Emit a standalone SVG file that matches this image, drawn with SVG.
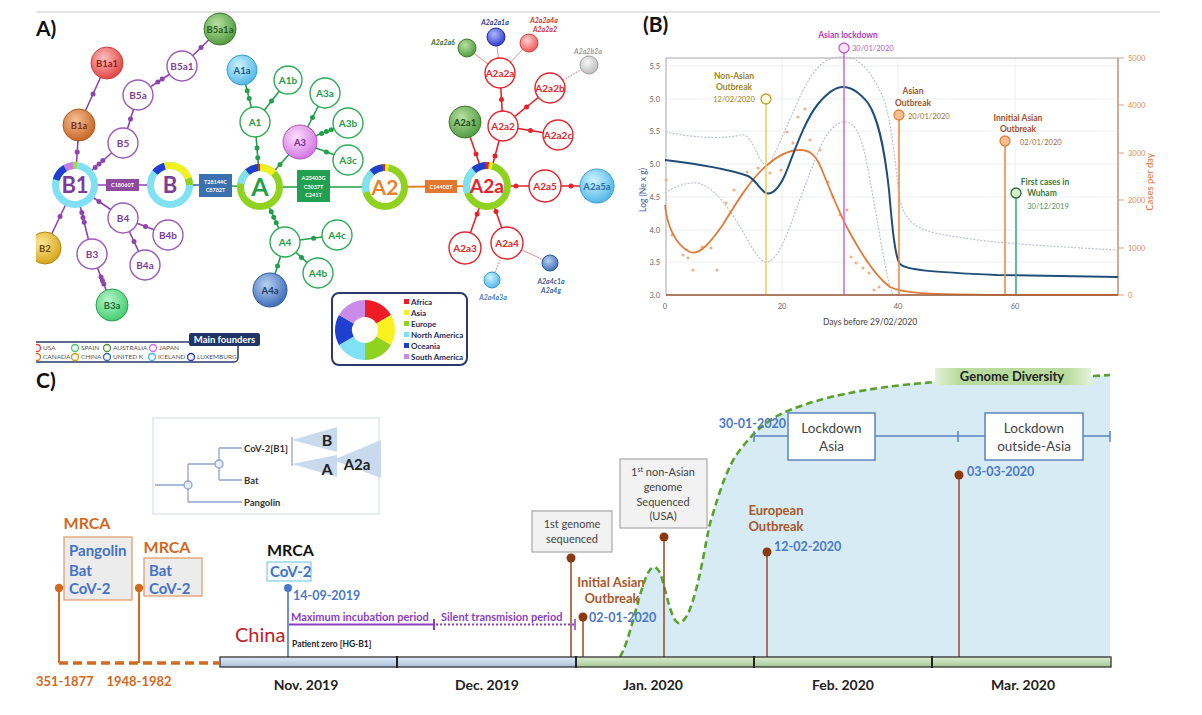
<svg xmlns="http://www.w3.org/2000/svg" width="1202" height="715" viewBox="0 0 1202 715">
<defs>
<style>
text{font-family:Lato,"Open Sans","Liberation Sans",sans-serif}
.lbl{font-weight:bold;font-size:21px;fill:#111}
.pl{stroke:#8e44ad;stroke-width:1.6;fill:none}
.gl{stroke:#22a04b;stroke-width:1.6;fill:none}
.rl{stroke:#e3242b;stroke-width:1.6;fill:none}
.ol{stroke:#e8822a;stroke-width:1.8;fill:none}
.thin{stroke:#e88a8a;stroke-width:1;fill:none}
.dotl{stroke:#e88a8a;stroke-width:1.2;fill:none;stroke-dasharray:1.5,1.5}
.pd{fill:#8e44ad}.gd{fill:#22a04b}.rd{fill:#e3242b}
.pn{fill:#fff;stroke:#9b59b6;stroke-width:1.4}
.gn{fill:#fff;stroke:#2eab56;stroke-width:1.4}
.rn{fill:#fff;stroke:#e3242b;stroke-width:1.4}
.tp{fill:#7d3c98;font-weight:bold;font-size:10px;text-anchor:middle}
.tg{fill:#1e9a48;font-weight:bold;font-size:10px;text-anchor:middle}
.tr{fill:#e3242b;font-weight:bold;font-size:10px;text-anchor:middle}
.tf{font-weight:bold;font-size:9.5px;text-anchor:middle}
.ts{font-weight:bold;font-style:italic;font-size:7px;text-anchor:middle}
.mut{fill:#fff;font-weight:bold;font-size:5.5px;text-anchor:middle}
.ring{fill:#fff;stroke-width:7}
.seg{fill:none;stroke-width:7}
.leg{font-size:6.5px;fill:#555}
.cl{font-weight:bold;font-size:8px;fill:#1f2d5c}
.ax{font-size:7.5px;fill:#666}
.axr{font-size:7.5px;fill:#e08a55}
.ev{font-weight:bold;font-size:8.5px;text-anchor:middle}
.evd{font-size:7.5px}
.grid{stroke:#eceef2;stroke-width:1}
.ci{fill:none;stroke:#b9c1cd;stroke-width:1.2;stroke-dasharray:2,1.5}
.od{fill:#f2b185}
.mo{font-weight:bold;font-size:14px;fill:#222;text-anchor:middle}
.blue{fill:#4a78c8;font-weight:bold}
.brn{fill:#a8582a;font-weight:bold;font-size:13px;text-anchor:middle}
.evl{stroke:#a0522d;stroke-width:1.6}
.evc{fill:#8b3a10}
.gbox{fill:#f2f2f2;stroke:#a8a8a8;stroke-width:1.2}
.gt{font-size:11px;fill:#444;text-anchor:middle}
.lk{fill:#fff;stroke:#5b85c0;stroke-width:1.5}
.lkt{font-size:13.5px;fill:#444;text-anchor:middle}
.tree{stroke:#8ea4cf;stroke-width:1.3;fill:none}
.tri{fill:#c9d9ee}
.org{fill:#d2691e;font-weight:bold}
.mb{fill:#4472c4;font-weight:bold;font-size:15px}
</style>
<clipPath id="clipA"><rect x="36" y="0" width="600" height="370"/></clipPath>
<radialGradient id="gRed" cx="40%" cy="35%" r="70%"><stop offset="0" stop-color="#ffc0c0"/><stop offset="1" stop-color="#e03c3c"/></radialGradient>
<radialGradient id="gBrn" cx="40%" cy="35%" r="70%"><stop offset="0" stop-color="#f6c098"/><stop offset="1" stop-color="#c4601c"/></radialGradient>
<radialGradient id="gGrn" cx="40%" cy="35%" r="70%"><stop offset="0" stop-color="#b8e0a0"/><stop offset="1" stop-color="#4a983a"/></radialGradient>
<radialGradient id="gLgr" cx="40%" cy="35%" r="70%"><stop offset="0" stop-color="#b8f5cc"/><stop offset="1" stop-color="#3ccc6a"/></radialGradient>
<radialGradient id="gGld" cx="40%" cy="35%" r="70%"><stop offset="0" stop-color="#ffe898"/><stop offset="1" stop-color="#d4a010"/></radialGradient>
<radialGradient id="gLbl" cx="40%" cy="35%" r="70%"><stop offset="0" stop-color="#d0f2fe"/><stop offset="1" stop-color="#48b4e6"/></radialGradient>
<radialGradient id="gBlu" cx="40%" cy="35%" r="70%"><stop offset="0" stop-color="#b8d2f2"/><stop offset="1" stop-color="#3868b4"/></radialGradient>
<radialGradient id="gVio" cx="40%" cy="35%" r="70%"><stop offset="0" stop-color="#fde0fd"/><stop offset="1" stop-color="#d070e0"/></radialGradient>
<radialGradient id="gNav" cx="40%" cy="35%" r="70%"><stop offset="0" stop-color="#b0b8ff"/><stop offset="1" stop-color="#2a34c8"/></radialGradient>
<radialGradient id="gPnk" cx="40%" cy="35%" r="70%"><stop offset="0" stop-color="#ffd0d0"/><stop offset="1" stop-color="#f05050"/></radialGradient>
<radialGradient id="gGry" cx="40%" cy="35%" r="70%"><stop offset="0" stop-color="#f8f8f8"/><stop offset="1" stop-color="#b8b8b8"/></radialGradient>
<linearGradient id="barB" x1="0" y1="0" x2="0" y2="1"><stop offset="0" stop-color="#e2eaf6"/><stop offset="1" stop-color="#a9bfdc"/></linearGradient>
<linearGradient id="barG" x1="0" y1="0" x2="0" y2="1"><stop offset="0" stop-color="#dcecd2"/><stop offset="1" stop-color="#a6c894"/></linearGradient>
<linearGradient id="gdv" x1="0" y1="0" x2="1" y2="0"><stop offset="0" stop-color="#e4f2d8"/><stop offset="0.15" stop-color="#b9dc9e"/><stop offset="0.85" stop-color="#b9dc9e"/><stop offset="1" stop-color="#e4f2d8"/></linearGradient>
</defs>
<rect width="1202" height="715" fill="#fff"/>
<line x1="36" y1="12" x2="1160" y2="12" stroke="#c8c8c8" stroke-width="1.2"/>

<!-- ============ PANEL A ============ -->
<text x="36" y="36" class="lbl">A)</text>
<g clip-path="url(#clipA)">
<g id="connectors">
 <path class="pl" d="M75,185L79,125M79,125L107,63M75,185L123,143M123,143L138,95M138,95L182,66M182,66L220,29M75,185L170,185M75,185L123,218M123,218L168,235M123,218L145,265M75,185L92,254M92,254L112,305M75,185L45,248"/>
 <g class="pd"><circle cx="77.2" cy="152" r="2.5"/><circle cx="93" cy="94" r="2.5"/><circle cx="95.2" cy="167.4" r="2.5"/><circle cx="99" cy="164" r="2.5"/><circle cx="102.8" cy="160.6" r="2.5"/><circle cx="130.5" cy="119" r="2.5"/><circle cx="157.8" cy="82" r="2.5"/><circle cx="162.2" cy="79" r="2.5"/><circle cx="201" cy="47.5" r="2.5"/><circle cx="99" cy="201.5" r="2.5"/><circle cx="145.5" cy="226.5" r="2.5"/><circle cx="134" cy="241.5" r="2.5"/><circle cx="81.8" cy="212.6" r="2.5"/><circle cx="83" cy="217.4" r="2.5"/><circle cx="84.2" cy="222.3" r="2.5"/><circle cx="101" cy="277" r="2.5"/><circle cx="102.4" cy="280.5" r="2.5"/><circle cx="103.8" cy="284" r="2.5"/><circle cx="60" cy="216.5" r="2.5"/></g>
 <path class="pl" d="M170,185L200,185" style="stroke:#3a6fb0"/>
 <path class="gl" d="M232,186L260,187M260,187L255,122M255,122L242,70M255,122L288,80M260,187L300,142M300,142L325,93M300,142L348,123M300,142L348,160M260,187L385,187M260,187L285,242M285,242L337,235M285,242L318,273M285,242L270,290"/>
 <g class="gd"><circle cx="257.75" cy="157.75" r="2.5"/><circle cx="257" cy="148" r="2.5"/><circle cx="249.2" cy="98.6" r="2.5"/><circle cx="247.2" cy="90.8" r="2.5"/><circle cx="271.5" cy="101" r="2.5"/><circle cx="280" cy="164.5" r="2.5"/><circle cx="312.5" cy="117.5" r="2.5"/><circle cx="321.6" cy="133.5" r="2.5"/><circle cx="326.4" cy="131.6" r="2.5"/><circle cx="331.2" cy="129.7" r="2.5"/><circle cx="326.4" cy="151.9" r="2.5"/><circle cx="271.25" cy="211.75" r="2.5"/><circle cx="273.75" cy="217.25" r="2.5"/><circle cx="276.25" cy="222.75" r="2.5"/><circle cx="313.6" cy="238.2" r="2.5"/><circle cx="301.5" cy="257.5" r="2.5"/><circle cx="277.5" cy="266" r="2.5"/></g>
 <path class="ol" d="M385,187L487,186"/>
 <path class="rl" d="M487,186L465,122M487,186L503,126M503,126L500,73M503,126L550,88M503,126L558,135M487,186L545,186M545,186L597,186M487,186L465,248M487,186L507,243"/>
 <g class="rd"><circle cx="476" cy="154" r="2.5"/><circle cx="495" cy="156" r="2.5"/><circle cx="501.5" cy="99.5" r="2.5"/><circle cx="526.5" cy="107" r="2.5"/><circle cx="530.5" cy="130.5" r="2.5"/><circle cx="516" cy="186" r="2.5"/><circle cx="571" cy="186" r="2.5"/><circle cx="477.1" cy="213.9" r="2.5"/><circle cx="496" cy="211.6" r="2.5"/></g>
 <path class="thin" d="M500,73L467,48M500,73L496,37M500,73L529,43M507,243L550,263"/>
 <path class="dotl" d="M550,88L589,65M507,243L492,280"/>
</g>

<!-- mutation boxes -->
<g id="mut-C18060T"><rect x="106" y="179" width="33" height="12" fill="#8e4a9e"/><text x="122.5" y="187.3" class="mut">C18060T</text></g>
<g id="mut-T28144C"><rect x="199" y="174" width="33" height="23" fill="#3a6fb0"/><text x="215.5" y="184" class="mut">T28144C</text><text x="215.5" y="192" class="mut">C8782T</text></g>
<g id="mut-A23403G"><rect x="297" y="170" width="33" height="32" fill="#20a050"/><text x="313.5" y="180" class="mut">A23403G</text><text x="313.5" y="188.5" class="mut">C3037T</text><text x="313.5" y="197" class="mut">C241T</text></g>
<g id="mut-C14408T"><rect x="425" y="180" width="32" height="13" fill="#e07830"/><text x="441" y="188.8" class="mut">C14408T</text></g>

<!-- ring nodes -->
<g id="B1"><circle cx="75" cy="185" r="19.5" class="ring" stroke="#7fe1f3"/>
 <path class="seg" stroke="#1f3fcf" d="M56.16,179.95A19.5,19.5 0 0 1 65.25,168.11"/>
 <path class="seg" stroke="#c77ce8" d="M65.25,168.11A19.5,19.5 0 0 1 73.30,165.57"/>
 <path class="seg" stroke="#a4dc2a" d="M73.30,165.57A19.5,19.5 0 0 1 76.70,165.57"/>
 <text x="75" y="193" font-size="22" font-weight="bold" fill="#7d3c98" text-anchor="middle">B1</text></g>
<g id="B"><circle cx="170" cy="185" r="19.5" class="ring" stroke="#7fe1f3"/>
 <path class="seg" stroke="#1f3fcf" d="M155.06,172.47A19.5,19.5 0 0 1 164.95,166.16"/>
 <path class="seg" stroke="#f4f01e" d="M164.95,166.16A19.5,19.5 0 0 1 188.32,178.33"/>
 <path class="seg" stroke="#8fd320" d="M188.32,178.33A19.5,19.5 0 0 1 189.5,185"/>
 <text x="170" y="193" font-size="22" font-weight="bold" fill="#7d3c98" text-anchor="middle">B</text></g>
<g id="A"><circle cx="260" cy="187" r="19.5" class="ring" stroke="#8fd320"/>
 <path class="seg" stroke="#7fe1f3" d="M240.80,183.61A19.5,19.5 0 0 1 247.47,172.06"/>
 <path class="seg" stroke="#1f3fcf" d="M247.47,172.06A19.5,19.5 0 0 1 258.30,167.57"/>
 <path class="seg" stroke="#e82020" d="M258.30,167.57A19.5,19.5 0 0 1 260,167.5"/>
 <path class="seg" stroke="#f4f01e" d="M260,167.5A19.5,19.5 0 0 1 273.79,173.21"/>
 <text x="260" y="196" font-size="25" font-weight="bold" fill="#22a04b" text-anchor="middle">A</text></g>
<g id="A2"><circle cx="385" cy="187" r="19.5" class="ring" stroke="#8fd320"/>
 <path class="seg" stroke="#7fe1f3" d="M366.16,192.05A19.5,19.5 0 0 1 371.95,172.51"/>
 <path class="seg" stroke="#1f3fcf" d="M371.95,172.51A19.5,19.5 0 0 1 382.96,167.61"/>
 <path class="seg" stroke="#e82020" d="M382.96,167.61A19.5,19.5 0 0 1 385,167.5"/>
 <path class="seg" stroke="#f4f01e" d="M385,167.5A19.5,19.5 0 0 1 388.39,167.80"/>
 <text x="385" y="195" font-size="21" font-weight="bold" fill="#e8822a" text-anchor="middle">A2</text></g>
<g id="A2a"><circle cx="487" cy="186" r="20.5" class="ring" stroke="#8fd320"/>
 <path class="seg" stroke="#7fe1f3" d="M467.74,193.01A20.5,20.5 0 0 1 473.82,170.30"/>
 <path class="seg" stroke="#1f3fcf" d="M473.82,170.30A20.5,20.5 0 0 1 485.93,165.53"/>
 <path class="seg" stroke="#e82020" d="M485.93,165.53A20.5,20.5 0 0 1 488.79,165.58"/>
 <path class="seg" stroke="#f4f01e" d="M488.79,165.58A20.5,20.5 0 0 1 492.31,166.20"/>
 <text x="487" y="193" font-size="19" font-weight="bold" fill="#e3242b" text-anchor="middle">A2a</text></g>

<!-- purple white nodes -->
<g id="B5"><circle cx="123" cy="143" r="15" class="pn"/><text x="123" y="146.5" class="tp">B5</text></g>
<g id="B5a"><circle cx="138" cy="95" r="15" class="pn"/><text x="138" y="98.5" class="tp">B5a</text></g>
<g id="B5a1"><circle cx="182" cy="66" r="15" class="pn"/><text x="182" y="69.5" class="tp">B5a1</text></g>
<g id="B4"><circle cx="123" cy="218" r="15" class="pn"/><text x="123" y="221.5" class="tp">B4</text></g>
<g id="B4b"><circle cx="168" cy="235" r="15" class="pn"/><text x="168" y="238.5" class="tp">B4b</text></g>
<g id="B4a"><circle cx="145" cy="265" r="15" class="pn"/><text x="145" y="268.5" class="tp">B4a</text></g>
<g id="B3"><circle cx="92" cy="254" r="15" class="pn"/><text x="92" y="257.5" class="tp">B3</text></g>
<!-- filled B nodes -->
<g id="B1a1"><circle cx="107" cy="63" r="16" fill="url(#gRed)" stroke="#c84040"/><text x="107" y="66.5" class="tf" fill="#8a1c1c">B1a1</text></g>
<g id="B1a"><circle cx="79" cy="125" r="16" fill="url(#gBrn)" stroke="#b05a20"/><text x="79" y="128.5" class="tf" fill="#7a3210">B1a</text></g>
<g id="B5a1a"><circle cx="220" cy="29" r="16" fill="url(#gGrn)" stroke="#3c7a2c"/><text x="220" y="32.5" class="tf" fill="#2a5a1c">B5a1a</text></g>
<g id="B2"><circle cx="45" cy="248" r="16" fill="url(#gGld)" stroke="#b08810"/><text x="45" y="251.5" class="tf" fill="#6a4a08">B2</text></g>
<g id="B3a"><circle cx="112" cy="305" r="16" fill="url(#gLgr)" stroke="#2aa050"/><text x="112" y="308.5" class="tf" fill="#176a32">B3a</text></g>

<!-- green nodes -->
<g id="A1"><circle cx="255" cy="122" r="15" class="gn"/><text x="255" y="125.5" class="tg">A1</text></g>
<g id="A1b"><circle cx="288" cy="80" r="14" class="gn"/><text x="288" y="83.5" class="tg">A1b</text></g>
<g id="A3a"><circle cx="325" cy="93" r="15" class="gn"/><text x="325" y="96.5" class="tg">A3a</text></g>
<g id="A3b"><circle cx="348" cy="123" r="15" class="gn"/><text x="348" y="126.5" class="tg">A3b</text></g>
<g id="A3c"><circle cx="348" cy="160" r="15" class="gn"/><text x="348" y="163.5" class="tg">A3c</text></g>
<g id="A4"><circle cx="285" cy="242" r="15" class="gn"/><text x="285" y="245.5" class="tg">A4</text></g>
<g id="A4c"><circle cx="337" cy="235" r="15" class="gn"/><text x="337" y="238.5" class="tg">A4c</text></g>
<g id="A4b"><circle cx="318" cy="273" r="15" class="gn"/><text x="318" y="276.5" class="tg">A4b</text></g>
<g id="A1a"><circle cx="242" cy="70" r="15" fill="url(#gLbl)" stroke="#3a9ed0"/><text x="242" y="73.5" class="tf" fill="#1a5a8a">A1a</text></g>
<g id="A3"><circle cx="300" cy="142" r="17" fill="url(#gVio)" stroke="#b050c0"/><text x="300" y="145.5" class="tf" fill="#7a2a8a">A3</text></g>
<g id="A4a"><circle cx="270" cy="290" r="17" fill="url(#gBlu)" stroke="#2a5aa0"/><text x="270" y="293.5" class="tf" fill="#1c3a6a">A4a</text></g>

<!-- red nodes -->
<g id="A2a2"><circle cx="503" cy="126" r="15" class="rn"/><text x="503" y="129.5" class="tr">A2a2</text></g>
<g id="A2a2a"><circle cx="500" cy="73" r="15" class="rn"/><text x="500" y="76.5" class="tr">A2a2a</text></g>
<g id="A2a2b"><circle cx="550" cy="88" r="15" class="rn"/><text x="550" y="91.5" class="tr">A2a2b</text></g>
<g id="A2a2c"><circle cx="558" cy="135" r="15" class="rn"/><text x="558" y="138.5" class="tr">A2a2c</text></g>
<g id="A2a5"><circle cx="545" cy="186" r="16" class="rn"/><text x="545" y="189.5" class="tr">A2a5</text></g>
<g id="A2a3"><circle cx="465" cy="248" r="16" class="rn"/><text x="465" y="251.5" class="tr">A2a3</text></g>
<g id="A2a4"><circle cx="507" cy="243" r="16" class="rn"/><text x="507" y="246.5" class="tr">A2a4</text></g>
<g id="A2a1"><circle cx="465" cy="122" r="16" fill="url(#gGrn)" stroke="#3c7a2c"/><text x="465" y="125.5" class="tf" fill="#1e4a14">A2a1</text></g>
<g id="A2a5a"><circle cx="597" cy="186" r="17" fill="url(#gLbl)" stroke="#3a9ed0"/><text x="597" y="189.5" class="tf" fill="#2a6ab0">A2a5a</text></g>
<g id="A2a2a6"><circle cx="467" cy="48" r="9" fill="url(#gGrn)" stroke="#3c7a2c"/><text x="443" y="45" class="ts" fill="#3a6a2a">A2a2a6</text></g>
<g id="A2a2a1a"><circle cx="496" cy="37" r="9" fill="url(#gNav)" stroke="#2028a0"/><text x="495" y="25" class="ts" fill="#2a3a8a">A2a2a1a</text></g>
<g id="A2a2a4a"><circle cx="529" cy="43" r="9" fill="url(#gPnk)" stroke="#d04040"/><text x="544" y="23" class="ts" fill="#d03030">A2a2a4a</text><text x="545" y="32" class="ts" fill="#d03030">A2a2a2</text></g>
<g id="A2a2b2a"><circle cx="589" cy="65" r="9" fill="url(#gGry)" stroke="#a0a0a0"/><text x="588" y="54" class="ts" fill="#999">A2a2b2a</text></g>
<g id="A2a4a3a"><circle cx="492" cy="280" r="8" fill="url(#gLbl)" stroke="#3a9ed0"/><text x="493" y="300" class="ts" fill="#4a7fc0">A2a4a3a</text></g>
<g id="A2a4c1a"><circle cx="550" cy="263" r="8" fill="url(#gBlu)" stroke="#2a5aa0"/><text x="551" y="284" class="ts" fill="#3a5f9a">A2a4c1a</text><text x="551" y="293" class="ts" fill="#3a5f9a">A2a4g</text></g>

<!-- founders legend -->
<g id="legend-founders">
 <rect x="30" y="342" width="208" height="20" rx="4" fill="#fff" stroke="#2a3a6a" stroke-width="1.5"/>
 <rect x="189" y="333" width="71" height="13" rx="2" fill="#1f3565"/>
 <text x="224.5" y="343" font-size="9.5" font-weight="bold" fill="#fff" text-anchor="middle">Main founders</text>
 <g stroke-width="1.3" fill="#f6f6f6">
  <circle cx="37" cy="348" r="3.5" stroke="#e84040"/><circle cx="75" cy="348" r="3.5" stroke="#3ccc6a"/><circle cx="107" cy="348" r="3.5" stroke="#4a983a"/><circle cx="153" cy="348" r="3.5" stroke="#d070e0"/>
  <circle cx="37" cy="357" r="3.5" stroke="#d8702a"/><circle cx="75" cy="357" r="3.5" stroke="#d4a010"/><circle cx="107" cy="357" r="3.5" stroke="#3868b4"/><circle cx="152" cy="357" r="3.5" stroke="#48b4e6"/><circle cx="191" cy="357" r="3.5" stroke="#2a34c8"/>
 </g>
 <text x="43" y="350.3" class="leg">USA</text><text x="81" y="350.3" class="leg">SPAIN</text><text x="113" y="350.3" class="leg">AUSTRALIA</text><text x="159" y="350.3" class="leg">JAPAN</text>
 <text x="43" y="359.3" class="leg">CANADA</text><text x="81" y="359.3" class="leg">CHINA</text><text x="113" y="359.3" class="leg">UNITED K</text><text x="158" y="359.3" class="leg">ICELAND</text><text x="197" y="359.3" class="leg">LUXEMBURG</text>
</g>
</g>

<!-- continent legend -->
<g id="legend-continents">
 <rect x="332" y="293" width="135" height="72" rx="7" fill="#fff" stroke="#2a3a6a" stroke-width="2"/>
 <g fill="none" stroke-width="17">
  <path stroke="#ee1c24" d="M365,308.5A21.5,21.5 0 0 1 383.62,319.25"/>
  <path stroke="#f8f020" d="M383.62,319.25A21.5,21.5 0 0 1 383.62,340.75"/>
  <path stroke="#8fd320" d="M383.62,340.75A21.5,21.5 0 0 1 365,351.5"/>
  <path stroke="#7fe1f3" d="M365,351.5A21.5,21.5 0 0 1 346.38,340.75"/>
  <path stroke="#1f3fcf" d="M346.38,340.75A21.5,21.5 0 0 1 346.38,319.25"/>
  <path stroke="#c98ae8" d="M346.38,319.25A21.5,21.5 0 0 1 365,308.5"/>
 </g>
 <rect x="404" y="299" width="5" height="5" fill="#ee1c24"/><text x="411" y="305" class="cl">Africa</text>
 <rect x="404" y="310" width="5" height="5" fill="#f8f020"/><text x="411" y="316" class="cl">Asia</text>
 <rect x="404" y="321" width="5" height="5" fill="#8fd320"/><text x="411" y="327" class="cl">Europe</text>
 <rect x="404" y="332" width="5" height="5" fill="#7fe1f3"/><text x="411" y="338" class="cl">North America</text>
 <rect x="404" y="343" width="5" height="5" fill="#1f3fcf"/><text x="411" y="349" class="cl">Oceania</text>
 <rect x="404" y="354" width="5" height="5" fill="#c98ae8"/><text x="411" y="360" class="cl">South America</text>
</g>

<!-- ============ PANEL B ============ -->
<g id="panelB">
 <text x="643" y="32" class="lbl">(B)</text>
 <g class="grid"><path d="M666,66H1118M666,99H1118M666,131H1118M666,164H1118M666,197H1118M666,230H1118M666,262H1118M782,58V295M898,58V295M1015,58V295"/></g>
 <rect x="666" y="58" width="452" height="237" fill="none" stroke="#a8a8a8" stroke-width="1"/>
 <line x1="1118" y1="58" x2="1118" y2="295" stroke="#c8875a" stroke-width="1"/>
 <g class="ax" text-anchor="end">
  <text x="660" y="69">5.5</text><text x="660" y="102">5.0</text><text x="660" y="134">5.5</text><text x="660" y="167">5.0</text><text x="660" y="200">4.5</text><text x="660" y="233">4.0</text><text x="660" y="265">3.5</text><text x="660" y="298">3.0</text>
 </g>
 <text transform="translate(646,190) rotate(-90)" font-size="8.5" fill="#3a5f9a" text-anchor="middle">Log (Ne x g)</text>
 <g class="axr">
  <text x="1128" y="61">5000</text><text x="1128" y="108">4000</text><text x="1128" y="156">3000</text><text x="1128" y="203">2000</text><text x="1128" y="251">1000</text><text x="1128" y="298">0</text>
 </g>
 <g stroke="#d8a080" stroke-width="1"><path d="M1118,58h6M1118,105h6M1118,153h6M1118,200h6M1118,248h6M1118,295h6"/></g>
 <text transform="translate(1153,182) rotate(-90)" font-size="9.5" fill="#d87030" text-anchor="middle">Cases per day</text>
 <g class="ax" text-anchor="middle"><text x="665" y="309">0</text><text x="782" y="309">20</text><text x="898" y="309">40</text><text x="1015" y="309">60</text></g>
 <text x="870" y="325" font-size="8.5" fill="#444" text-anchor="middle">Days before 29/02/2020</text>

 <!-- curves -->
 <path class="ci" d="M666,132C690,137 720,140 740,135C748,133 752,143 758,155C762,163 766,168 770,163C776,152 784,132 795,108C805,85 815,65 830,59C838,56 848,56 856,60C866,66 876,80 884,100C892,125 895,160 899,195C903,220 915,228 935,233C970,240 1000,244 1118,250"/>
 <path class="ci" d="M665,193C675,186 688,182 697,183C715,186 730,210 745,235C752,248 760,262 766,262C774,262 780,250 788,232C796,210 805,185 815,160C822,140 832,124 843,122C852,121 858,128 864,150C872,185 882,255 890,287L893,295"/>
 <g class="od">
  <circle cx="666" cy="180" r="1.6"/><circle cx="672" cy="235" r="1.6"/><circle cx="683" cy="255" r="1.6"/><circle cx="688" cy="258" r="1.6"/><circle cx="693" cy="270" r="1.6"/><circle cx="702" cy="247" r="1.6"/><circle cx="711" cy="248" r="1.6"/><circle cx="717" cy="270" r="1.6"/><circle cx="726" cy="203" r="1.6"/><circle cx="734" cy="190" r="1.6"/><circle cx="747" cy="172" r="1.6"/><circle cx="758" cy="168" r="1.6"/><circle cx="770" cy="173" r="1.6"/><circle cx="781" cy="170" r="1.6"/><circle cx="787" cy="132" r="1.6"/><circle cx="793" cy="143" r="1.6"/><circle cx="798" cy="117" r="1.6"/><circle cx="805" cy="109" r="1.6"/><circle cx="810" cy="140" r="1.6"/><circle cx="820" cy="150" r="1.6"/><circle cx="828" cy="182" r="1.6"/><circle cx="833" cy="197" r="1.6"/><circle cx="840" cy="215" r="1.6"/><circle cx="847" cy="210" r="1.6"/><circle cx="851" cy="257" r="1.6"/><circle cx="856" cy="263" r="1.6"/><circle cx="863" cy="268" r="1.6"/><circle cx="869" cy="273" r="1.6"/><circle cx="874" cy="290" r="1.6"/><circle cx="879" cy="287" r="1.6"/>
 </g>
 <path fill="none" stroke="#e07b39" stroke-width="1.8" d="M665,205C667,225 675,245 690,252C700,256 712,240 722,226C735,205 750,180 765,167C778,155 790,150 800,150C810,150 816,155 822,170C830,190 840,215 850,233C862,255 875,276 890,287C905,294 930,294 997,295L1118,295"/>
 <path fill="none" stroke="#1f4e79" stroke-width="2" d="M665,160C690,163 725,168 748,176C756,180 760,190 766,193C772,195 778,190 785,175C795,150 805,120 818,104C828,92 836,87 843,87C852,87 860,93 868,103C878,118 884,145 889,190C892,225 895,258 900,264C906,270 930,272 997,275L1118,277"/>

 <!-- events -->
 <g id="ev-nonasian">
  <line x1="766" y1="104" x2="766" y2="295" stroke="#f0d060" stroke-width="1.6"/>
  <circle cx="766" cy="99" r="5" fill="#fffbe0" stroke="#b8a030" stroke-width="1.3"/>
  <text x="734" y="79" class="ev" fill="#a08420">Non-Asian</text><text x="734" y="90" class="ev" fill="#a08420">Outbreak</text>
  <text x="734" y="102" class="evd" fill="#a08420" text-anchor="middle">12/02/2020</text>
 </g>
 <g id="ev-lockdown">
  <line x1="844" y1="53" x2="844" y2="295" stroke="#d070e0" stroke-width="1.6"/>
  <circle cx="844" cy="48" r="5" fill="#f8e4f8" stroke="#c060d0" stroke-width="1.3"/>
  <text x="848" y="38" class="ev" fill="#b040c0">Asian lockdown</text>
  <text x="852" y="51" class="evd" fill="#b060c0">30/01/2020</text>
 </g>
 <g id="ev-asian">
  <line x1="899" y1="120" x2="899" y2="295" stroke="#e89050" stroke-width="1.6"/>
  <circle cx="899" cy="115" r="5" fill="#f8c090" stroke="#e08040" stroke-width="1.3"/>
  <text x="913" y="94" class="ev" fill="#a0522d">Asian</text><text x="913" y="106" class="ev" fill="#a0522d">Outbreak</text>
  <text x="908" y="119" class="evd" fill="#a06a40">20/01/2020</text>
 </g>
 <g id="ev-initial">
  <line x1="1005" y1="146" x2="1005" y2="295" stroke="#e89050" stroke-width="1.6"/>
  <circle cx="1005" cy="141" r="5" fill="#f8c090" stroke="#e08040" stroke-width="1.3"/>
  <text x="1018" y="121" class="ev" fill="#a0522d">Innitial Asian</text><text x="1018" y="132" class="ev" fill="#a0522d">Outbreak</text>
  <text x="1020" y="145" class="evd" fill="#a06a40">02/01/2020</text>
 </g>
 <g id="ev-wuhan">
  <line x1="1016" y1="198" x2="1016" y2="295" stroke="#40b080" stroke-width="1.6"/>
  <circle cx="1016" cy="193" r="5" fill="#d8f0c8" stroke="#2a6a3a" stroke-width="1.3"/>
  <text x="1045" y="185" class="ev" fill="#3a7a3a">First cases in</text><text x="1042" y="196" class="ev" fill="#3a7a3a">Wuham</text>
  <text x="1048" y="209" class="evd" fill="#5a8a5a" text-anchor="middle">30/12/2019</text>
 </g>
 <line x1="666" y1="295" x2="1118" y2="295" stroke="#a06040" stroke-width="1.5"/>
</g>

<!-- ============ PANEL C ============ -->
<text x="36" y="388" class="lbl">C)</text>

<g id="tree-inset">
 <rect x="153" y="418" width="226" height="96" fill="#fff" stroke="#dfe5ee" stroke-width="1.5"/>
 <path class="tree" d="M155,485H184M188,464V502M188,464H215M188,502H242M219,448V480M219,448H242M219,480H242M292,437V466"/>
 <circle cx="188" cy="485" r="4" fill="#e8eef8" stroke="#8ea4cf" stroke-width="1.3"/>
 <circle cx="219" cy="464" r="4" fill="#e8eef8" stroke="#8ea4cf" stroke-width="1.3"/>
 <text x="244" y="452" font-size="9.5" font-weight="bold" fill="#333">CoV-2[B1]</text>
 <text x="244" y="484" font-size="9.5" font-weight="bold" fill="#333">Bat</text>
 <text x="244" y="506" font-size="9.5" font-weight="bold" fill="#333">Pangolin</text>
 <polygon class="tri" points="292,440 337,427 337,452"/>
 <polygon class="tri" points="292,464 337,455 337,477"/>
 <polygon class="tri" points="333,460 381,440 381,478"/>
 <text x="327" y="446" font-size="16" font-weight="bold" fill="#222" text-anchor="middle">B</text>
 <text x="327" y="475" font-size="16" font-weight="bold" fill="#222" text-anchor="middle">A</text>
 <text x="357" y="470" font-size="15" font-weight="bold" fill="#222" text-anchor="middle">A2a</text>
</g>

<!-- diversity fill & curve -->
<path d="M620,657C630,640 637,600 645,580C650,565 656,563 661,575C667,595 672,625 680,623C688,620 694,600 700,573C705,550 708,530 711,520C720,490 728,465 740,450C755,430 770,418 790,410C820,398 860,388 935,382L1091,377L1110,375L1110,657Z" fill="#d6ebf4"/>
<path d="M620,657C630,640 637,600 645,580C650,565 656,563 661,575C667,595 672,625 680,623C688,620 694,600 700,573C705,550 708,530 711,520C720,490 728,465 740,450C755,430 770,418 790,410C820,398 860,388 935,382" fill="none" stroke="#5aa02c" stroke-width="2.6" stroke-dasharray="7,4"/>
<path d="M1093,376L1110,375" fill="none" stroke="#5aa02c" stroke-width="2.6" stroke-dasharray="7,4"/>
<g id="genome-diversity"><rect x="935" y="368" width="156" height="17" fill="url(#gdv)"/><text x="1012" y="381" font-size="13" font-weight="bold" fill="#222" text-anchor="middle">Genome Diversity</text></g>

<!-- lockdown bar -->
<g id="lockdown">
 <path d="M754,436H1110M754,431V442M958,431V442M1110,431V442" stroke="#5b85c0" stroke-width="1.5" fill="none"/>
 <text x="786" y="428" class="blue" font-size="12.5" text-anchor="end">30-01-2020</text>
 <rect x="788" y="413" width="87" height="47" class="lk"/>
 <text x="831.5" y="433" class="lkt">Lockdown</text><text x="831.5" y="451" class="lkt">Asia</text>
 <rect x="985" y="413" width="98" height="47" class="lk"/>
 <text x="1034" y="433" class="lkt">Lockdown</text><text x="1034" y="451" class="lkt">outside-Asia</text>
</g>

<!-- left MRCA -->
<g id="mrca1">
 <text x="87" y="529" class="org" font-size="16" text-anchor="middle">MRCA</text>
 <rect x="64" y="537" width="68" height="63" fill="#ececec" stroke="#e0a070" stroke-width="1.3"/>
 <text x="69" y="556" class="mb">Pangolin</text><text x="69" y="576" class="mb">Bat</text><text x="69" y="594" class="mb">CoV-2</text>
 <line x1="59" y1="588" x2="59" y2="663" stroke="#d2691e" stroke-width="2"/>
 <circle cx="59" cy="588" r="4.2" fill="#d2691e"/>
 <text x="36" y="686" class="org" font-size="13">351-1877</text>
</g>
<g id="mrca2">
 <text x="167" y="553" class="org" font-size="16" text-anchor="middle">MRCA</text>
 <rect x="144" y="558" width="58" height="38" fill="#ececec" stroke="#e0a070" stroke-width="1.3"/>
 <text x="149" y="576" class="mb">Bat</text><text x="149" y="594" class="mb">CoV-2</text>
 <line x1="139" y1="588" x2="139" y2="663" stroke="#d2691e" stroke-width="2"/>
 <circle cx="139" cy="588" r="4.2" fill="#d2691e"/>
 <text x="139" y="686" class="org" font-size="13" text-anchor="middle">1948-1982</text>
</g>
<line x1="59" y1="663" x2="219" y2="663" stroke="#d2691e" stroke-width="3.5" stroke-dasharray="9,5"/>

<!-- China / patient zero -->
<text x="235" y="642" font-size="20" fill="#c0202a">China</text>
<g id="mrca-cov2">
 <text x="267" y="556" font-size="16" font-weight="bold" fill="#111">MRCA</text>
 <rect x="267" y="562" width="44" height="19" fill="#f2f9fc" stroke="#8ed0e8" stroke-width="1.3"/>
 <text x="270" y="577" class="mb">CoV-2</text>
 <line x1="288" y1="588" x2="288" y2="657" stroke="#4a78c8" stroke-width="1.6"/>
 <circle cx="288" cy="588" r="4" fill="#4a78c8"/>
 <text x="293" y="600" class="blue" font-size="12.5">14-09-2019</text>
</g>
<g id="periods">
 <text x="291" y="621" font-size="11" font-weight="bold" fill="#8a3fc0">Maximum incubation period</text>
 <text x="441" y="621" font-size="11" font-weight="bold" fill="#8a3fc0">Silent transmision period</text>
 <path d="M289,624.5H434M434,619V630" stroke="#8a3fc0" stroke-width="2" fill="none"/>
 <path d="M436,624.5H575" stroke="#8a3fc0" stroke-width="2" fill="none" stroke-dasharray="2,2"/>
 <path d="M575,619V630" stroke="#8a3fc0" stroke-width="1.5"/>
 <text x="292" y="647" font-size="8.5" font-weight="bold" fill="#222">Patient zero [HG-B1]</text>
</g>

<!-- events in C -->
<g id="first-genome">
 <rect x="532" y="511" width="80" height="41" class="gbox"/>
 <text x="572" y="528" class="gt">1st genome</text><text x="572" y="543" class="gt">sequenced</text>
 <line x1="571" y1="558" x2="571" y2="657" class="evl"/><circle cx="571" cy="558" r="4.5" class="evc"/>
</g>
<g id="initial-asian">
 <text x="611" y="587" class="brn">Initial Asian</text><text x="612" y="603" class="brn">Outbreak</text>
 <line x1="583" y1="617" x2="583" y2="657" class="evl"/><circle cx="583" cy="617" r="4.5" class="evc"/>
 <text x="589" y="622" class="blue" font-size="12.5">02-01-2020</text>
</g>
<g id="non-asian-genome">
 <rect x="620" y="459" width="87" height="69" class="gbox"/>
 <text x="663" y="476" class="gt">1<tspan font-size="7" dy="-4">st</tspan><tspan dy="4"> non-Asian</tspan></text>
 <text x="663" y="491" class="gt">genome</text><text x="663" y="506" class="gt">Sequenced</text><text x="663" y="520" class="gt">(USA)</text>
 <line x1="664" y1="537" x2="664" y2="657" class="evl"/><circle cx="664" cy="537" r="4.5" class="evc"/>
</g>
<g id="european">
 <text x="776" y="515" class="brn">European</text><text x="776" y="531" class="brn">Outbreak</text>
 <line x1="767" y1="552" x2="767" y2="657" class="evl"/><circle cx="767" cy="552" r="4.5" class="evc"/>
 <text x="774" y="551" class="blue" font-size="12.5">12-02-2020</text>
</g>
<g id="march">
 <line x1="959" y1="475" x2="959" y2="657" class="evl"/><circle cx="959" cy="475" r="4.5" class="evc"/>
 <text x="967" y="476" class="blue" font-size="12.5">03-03-2020</text>
</g>

<!-- time bar -->
<g id="timebar">
 <rect x="220" y="657" width="356" height="10" fill="url(#barB)" stroke="#333" stroke-width="1.3"/>
 <rect x="576" y="657" width="535" height="10" fill="url(#barG)" stroke="#333" stroke-width="1.3"/>
 <path d="M397,656V668M754,656V668M932,656V668M576,656V668" stroke="#222" stroke-width="2"/>
 <text x="306" y="690" class="mo">Nov. 2019</text>
 <text x="487" y="690" class="mo">Dec. 2019</text>
 <text x="653" y="690" class="mo">Jan. 2020</text>
 <text x="843" y="690" class="mo">Feb. 2020</text>
 <text x="1023" y="690" class="mo">Mar. 2020</text>
</g>
</svg>
